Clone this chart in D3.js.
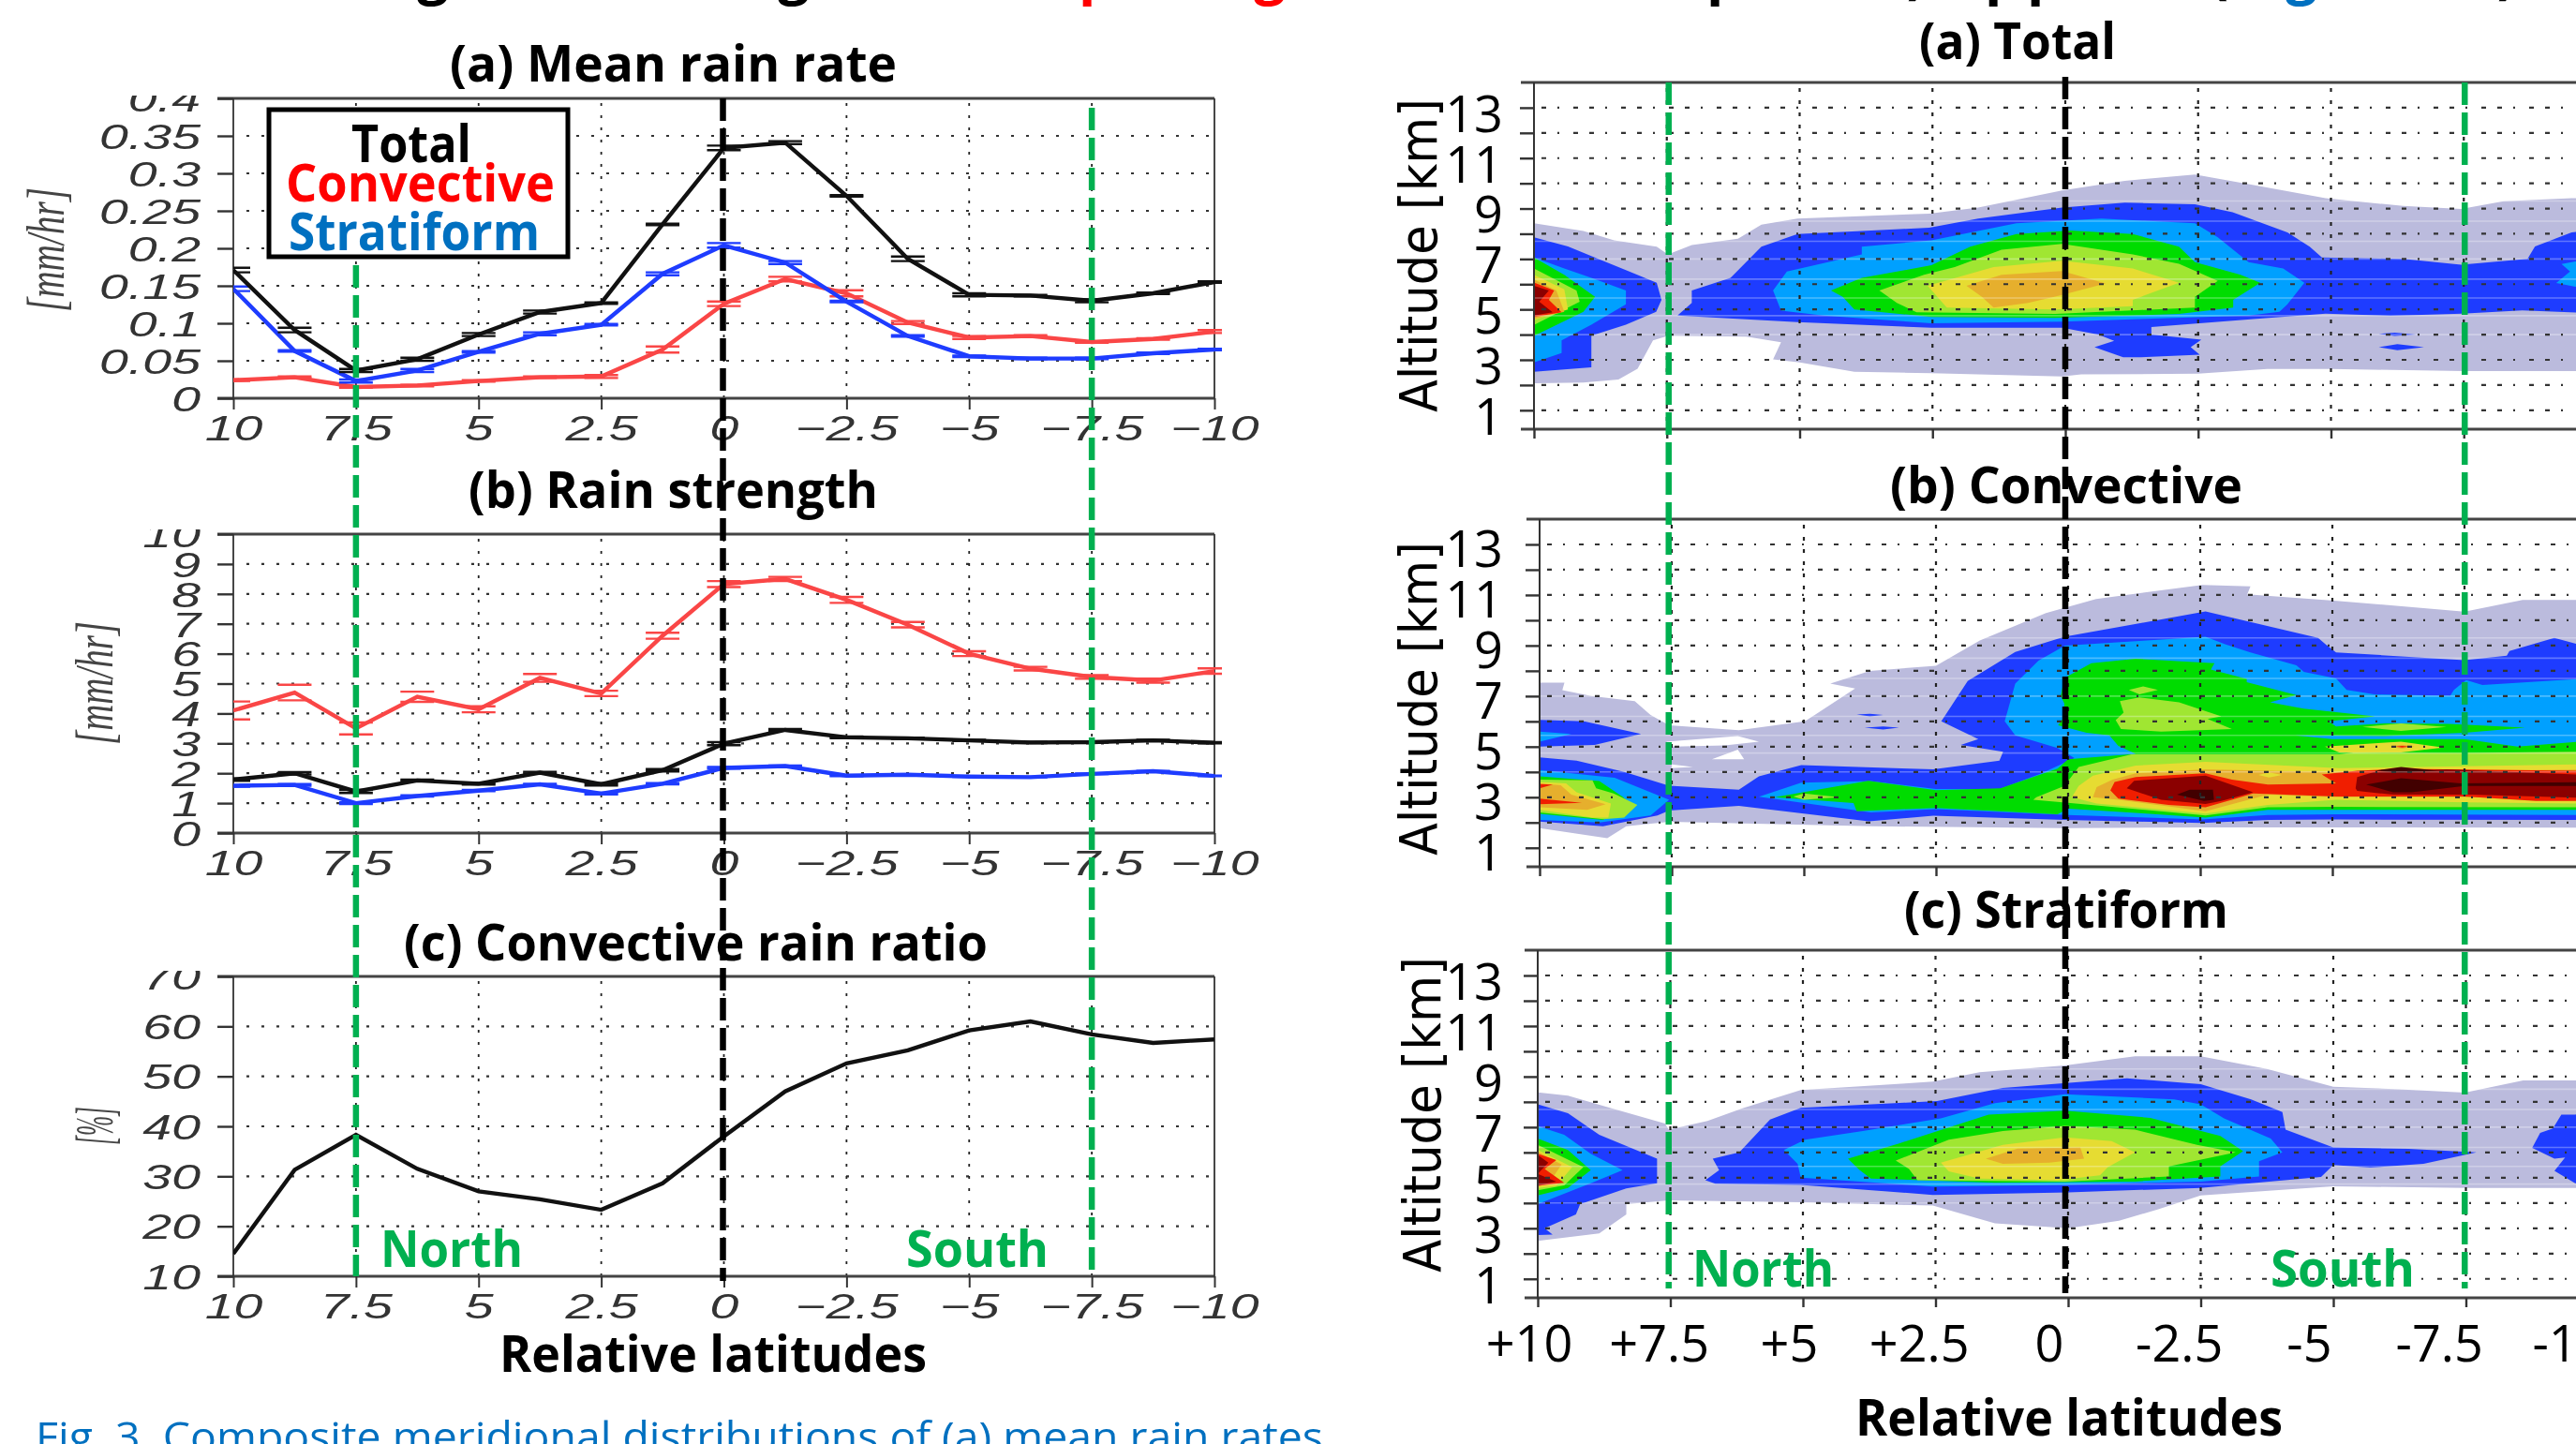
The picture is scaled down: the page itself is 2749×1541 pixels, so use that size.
<!DOCTYPE html>
<html lang="en">
<head>
<meta charset="UTF-8">
<title>Relative latitude composites</title>
<script src="https://d3js.org/d3.v7.min.js"></script>
<style>
    html, body { margin: 0; padding: 0; background: #fff; overflow: hidden; }
    svg { display: block; filter: blur(0.7px); }
    text { font-family: "Open Sans", sans-serif; }
    .grads text { font-family: "Liberation Sans", sans-serif; font-style: italic; font-size: 37px; fill: #333; }
    .unit { font-family: "Liberation Serif", serif; font-style: italic; font-size: 58px; fill: #444; }
</style>
</head>
<body>
<script>
// ---- line panels: one value every 1.25 degree
const latitudes = [10, 8.75, 7.5, 6.25, 5, 3.75, 2.5, 1.25, 0, -1.25, -2.5, -3.75, -5, -6.25, -7.5, -8.75, -10];
const latTicks = [10, 7.5, 5, 2.5, 0, -2.5, -5, -7.5, -10];
const latTickLabels = ["10", "7.5", "5", "2.5", "0", "\u22122.5", "\u22125", "\u22127.5", "\u221210"];

const rateTotal = [0.171, 0.091, 0.037, 0.052, 0.085, 0.115, 0.127, 0.232, 0.334, 0.341, 0.27, 0.186, 0.138, 0.137, 0.13, 0.14, 0.155];
const rateConvective = [0.024, 0.028, 0.015, 0.017, 0.023, 0.028, 0.029, 0.065, 0.126, 0.159, 0.14, 0.101, 0.081, 0.083, 0.075, 0.079, 0.089];
const rateStratiform = [0.146, 0.063, 0.023, 0.037, 0.062, 0.086, 0.098, 0.166, 0.204, 0.181, 0.129, 0.083, 0.056, 0.053, 0.053, 0.06, 0.065];
const rateErrTotal = [0.003, 0.003, 0.002, 0.002, 0.002, 0.002, 0.001, 0.001, 0.003, 0.002, 0.001, 0.003, 0.002, 0.001, 0.002, 0.001, 0.001];
const rateErrConvective = [0.001, 0.001, 0.001, 0.001, 0.001, 0.001, 0.002, 0.004, 0.003, 0.003, 0.004, 0.002, 0.002, 0.001, 0.001, 0.001, 0.002];
const rateErrStratiform = [0.003, 0.001, 0.002, 0.002, 0.001, 0.002, 0.001, 0.002, 0.003, 0.002, 0.001, 0.001, 0.001, 0.001, 0.001, 0.001, 0.001];
const rateTicks = [0, 0.05, 0.1, 0.15, 0.2, 0.25, 0.3, 0.35, 0.4];
const rateTickLabels = ["0", "0.05", "0.1", "0.15", "0.2", "0.25", "0.3", "0.35", "0.4"];

const strengthTotal = [1.79, 2.0, 1.39, 1.76, 1.65, 2.02, 1.63, 2.1, 2.99, 3.45, 3.2, 3.17, 3.1, 3.03, 3.04, 3.1, 3.02];
const strengthConvective = [4.1, 4.7, 3.5, 4.56, 4.14, 5.19, 4.67, 6.6, 8.33, 8.5, 7.8, 6.97, 6.0, 5.5, 5.22, 5.1, 5.42];
const strengthStratiform = [1.58, 1.61, 1.0, 1.24, 1.42, 1.63, 1.32, 1.65, 2.18, 2.24, 1.92, 1.95, 1.89, 1.87, 1.98, 2.07, 1.91];
const strengthErrTotal = [0.04, 0.04, 0.05, 0.03, 0.03, 0.03, 0.04, 0.04, 0.05, 0.03, 0.03, 0.02, 0.02, 0.02, 0.02, 0.02, 0.02];
const strengthErrConvective = [0.3, 0.26, 0.2, 0.17, 0.1, 0.13, 0.09, 0.1, 0.1, 0.07, 0.1, 0.09, 0.08, 0.06, 0.06, 0.07, 0.09];
const strengthErrStratiform = [0.03, 0.03, 0.03, 0.02, 0.02, 0.02, 0.03, 0.02, 0.03, 0.02, 0.02, 0.01, 0.01, 0.01, 0.01, 0.01, 0.01];
const strengthTicks = [0, 1, 2, 3, 4, 5, 6, 7, 8, 9, 10];

const ratioValues = [14.5, 31.3, 38.3, 31.5, 27, 25.4, 23.3, 28.6, 38, 47, 52.6, 55.2, 59.2, 61, 58.4, 56.7, 57.4];
const ratioTicks = [10, 20, 30, 40, 50, 60, 70];

// ---- contour panels: [level, ring of [latitude, altitude]]
// levels: 0 lightest ... 9 darkest, 10 = empty hole inside a lower level
const altTicks = [1, 2, 3, 4, 5, 6, 7, 8, 9, 10, 11, 12, 13];
const altLabels = ["1", "", "3", "", "5", "", "7", "", "9", "", "11", "", "13"];
const gridLats = [7.5, 5, 2.5, 0, -2.5, -5, -7.5];
const boxLats = [10, 7.5, 5, 2.5, 0, -2.5, -5, -7.5];
const seamAlts = [9.3, 8.5, 7.7, 7, 6.2, 5.45, 4.75, 4];
const bottomLabels = ["+10", "+7.5", "+5", "+2.5", "0", "-2.5", "-5", "-7.5", "-10"];

const totalContours = [
  [0, [[10,8.42],[9.07,8.11],[8.49,7.74],[7.69,7.49],[7.48,7.18],[7.03,7.55],[6.16,7.8],[5.72,8.36],[5.04,8.6],[2.56,8.8],[1.64,9.04],[0.06,9.72],[-1.12,10.1],[-2.44,10.35],[-3.45,9.97],[-4.9,9.41],[-6.36,9.1],[-7.45,8.98],[-8.25,9.29],[-9.53,9.41],[-10,9.4],[-10,2.55],[-7.5,2.55],[-5,2.64],[-3.8,2.64],[-2.5,2.45],[-0.3,2.42],[0.06,2.34],[2.52,2.47],[3.97,2.53],[5,2.9],[5.5,3.02],[5.35,3.7],[6,3.92],[7.47,3.96],[7.76,3.77],[8.05,2.65],[8.41,2.22],[9.07,2.1],[10,2.07]]],
  [1, [[10,7.86],[9.36,7.5],[8.92,7.12],[8.27,6.56],[7.69,6.06],[7.6,5.38],[7.7,4.9],[8.27,4.39],[8.92,3.96],[8.92,2.7],[10,2.53]]],
  [1, [[7.3,4.76],[7.03,5.26],[7.03,5.75],[6.3,6.25],[5.72,7.49],[5.04,7.99],[3.83,8.11],[2.56,8.24],[1.64,8.6],[0.06,9.04],[-1.12,9.23],[-2.44,9.17],[-3.15,8.85],[-4.18,8.05],[-4.6,7.49],[-4.83,7.06],[-6.36,7],[-7.45,6.77],[-8.7,7],[-8.84,7.5],[-9.53,8.05],[-10,8.2],[-10,4.85],[-8.6,4.96],[-7.46,4.83],[-6.12,4.75],[-4.9,4.83],[-3.77,4.65],[-1.62,4.3],[-1.62,4],[-2.56,3.8],[-2.36,3.5],[-2.53,3.2],[-1.42,3.1],[-1.09,3.1],[-0.55,3.5],[-0.92,3.75],[-0.62,4],[0.06,4.27],[2.52,4.27],[5.04,4.5]]],
  [1, [[-5.9,3.5],[-6.25,3.62],[-6.75,3.5],[-6.25,3.38]]],
  [1, [[-5.9,4.03],[-6.2,4.08],[-6.6,4],[-6.2,3.95]]],
  [2, [[10,7.06],[9.43,6.62],[8.92,6.25],[8.27,5.75],[8.27,5.2],[8.92,4.39],[9.48,3.77],[9.48,3.27],[10,2.9]]],
  [2, [[5.5,5.75],[5.24,6.5],[3.83,7.18],[3.83,7.49],[2.52,7.74],[0.92,8.42],[-0.68,8.6],[-2.44,8.42],[-2.87,7.86],[-3.45,6.87],[-4.1,6.62],[-4.5,6.06],[-4.18,5.2],[-4.03,4.9],[-3.45,4.76],[0.06,4.51],[2.52,4.45],[4.55,4.76],[5.35,4.95]]],
  [2, [[-10,6.95],[-9.6,6.9],[-9.34,6.8],[-9.5,6.5],[-9.24,6.05],[-9.6,5.9],[-10,5.85]]],
  [3, [[10,7.06],[9.43,6.37],[8.85,5.5],[9.07,4.9],[10,3.95]]],
  [3, [[4.41,5.75],[3.83,6.25],[2.52,6.75],[1.79,7.49],[0.92,7.99],[-0.1,8.13],[-1.27,7.99],[-2.14,7.49],[-2.44,6.87],[-3.3,6.37],[-3.67,6.06],[-3.16,5.38],[-3.16,5.07],[-2.14,4.82],[0.19,4.66],[2.52,4.7],[3.97,5],[4.19,5.5]]],
  [4, [[10,6.62],[9.2,5.75],[9.14,5.3],[10,4.38]]],
  [4, [[3.5,5.75],[2.66,6.37],[2.08,6.68],[1.2,7.37],[0.06,7.6],[-1.27,7.18],[-2.14,6.81],[-2.87,6.13],[-2.44,5.5],[-2.44,5.07],[0.19,4.82],[2.8,4.89],[3.17,5.26]]],
  [5, [[10,6.37],[9.43,5.8],[9.36,5],[10,4.58]]],
  [5, [[2.59,5.94],[1.35,6.68],[0.06,6.93],[-1.27,6.62],[-2.14,6.06],[-1.27,5.38],[-1.27,5.13],[0.19,5],[2.23,5.07]]],
  [6, [[10,6.19],[9.58,5.75],[9.43,4.9],[10,4.63]]],
  [6, [[1.86,5.94],[1.2,6.37],[0.06,6.52],[-0.76,6.03],[0.06,5.57],[0.7,5.26],[1.35,5.07],[1.57,5.5]]],
  [7, [[10,6.07],[9.62,5.75],[9.72,5.38],[9.48,4.89],[10,4.7]]],
  [8, [[10,5.94],[9.72,5.75],[9.9,5.3],[9.65,4.89],[10,4.76]]]
];

const convectiveContours = [
  [0, [[10,7.53],[9.53,7.53],[9.57,7.24],[9.02,7],[8.2,6.8],[7.9,6.25],[7.55,5.85],[6.23,5.65],[4.98,6],[4.03,7.3],[4.5,7.5],[3.75,8],[2.5,8.2],[1.67,9.2],[0.42,10.28],[-0.53,10.84],[-2.54,11.4],[-3.45,11.34],[-3.39,11.03],[-5.03,10.78],[-7.5,10.34],[-8.6,10.8],[-10,10.8],[-10,1.8],[-2.54,1.81],[0.06,1.78],[3.7,1.85],[7.55,2.03],[8.36,1.85],[8.72,1.38],[10,1.78]]],
  [10, [[7.6,5.2],[6.25,5.42],[5.85,5.2],[6.5,5.05],[7.5,5]]],
  [10, [[6.74,4.5],[6.25,4.88],[6.13,4.5]]],
  [10, [[7.5,4.3],[7.1,4.2],[7.5,4.15]]],
  [1, [[10,6.06],[9.16,6],[8.08,5.5],[8.96,5.07],[10,5]]],
  [1, [[3.85,5.75],[3.5,5.8],[3.2,5.75],[3.5,5.68]]],
  [1, [[4,6.27],[3.75,6.3],[3.5,6.25],[3.75,6.2]]],
  [1, [[10,4.58],[9.3,4.45],[8.4,4],[7.55,3.46],[6.23,3.3],[5.85,3.83],[5.05,4.27],[2.55,4.1],[1.3,4.45],[1.23,4.8],[2.03,5.07],[1.7,5.3],[2.4,6],[1.9,7.6],[1,8.75],[0.07,9.35],[-2.6,10.35],[-4.73,9.3],[-4.87,9.05],[-5.07,8.73],[-7.5,8.42],[-8.3,8.6],[-8.35,8.78],[-9.2,9.3],[-9.65,9.05],[-10,9.05],[-10,2.05],[-9.65,2.1],[-5.07,2.12],[-3.78,2.1],[-2.54,1.98],[0.06,2.1],[2.55,2.27],[3.77,2.05],[6.23,2.66],[7.55,2.47],[7.77,2.28],[8.8,1.85],[10,2.04]]],
  [2, [[10,5.6],[9.4,5.5],[10,5.2]]],
  [2, [[10,4.08],[8.58,3.77],[7.55,2.9],[7.9,2.28],[8.87,2],[10,2.1]]],
  [2, [[5.85,3.02],[5.05,3.58],[3.73,3.64],[2.5,3.33],[1.3,3.33],[0.5,3.95],[-0.12,4.55],[0.2,4.95],[1,5.45],[1.2,6],[1,7.5],[0.56,8.4],[0.06,9],[-2.6,9.35],[-2.97,9.05],[-3.45,8.73],[-4.32,8.22],[-4.46,7.96],[-5.07,7.7],[-5.27,7.25],[-5.8,7.07],[-7.23,7.01],[-7.3,7.25],[-7.53,7.63],[-7.84,7.44],[-9.65,7.68],[-10,7.7],[-10,2.3],[-9.65,2.3],[-5.07,2.33],[-3.78,2.3],[-2.54,2.12],[0,2.3],[2.5,2.53],[3.73,2.4]]],
  [3, [[10,3.83],[8.87,3.64],[8.43,3.02],[8.28,2.72],[8.8,2.1],[10,2.34]]],
  [3, [[0.19,5.85],[0.1,6.1],[0.07,6.7],[0.14,7],[0.07,7.72],[-0.44,8.3],[-1.28,8.48],[-2.77,8.3],[-2.7,8.05],[-3.38,7.68],[-3.38,7.55],[-4.32,7.04],[-3.82,6.75],[-4.46,6.5],[-5.81,6.2],[-4.93,6],[-5.07,5.8],[-6,5.92],[-7.2,5.9],[-8.65,5.75],[-7.5,5.55],[-6,5.42],[-4.3,5.45],[-5,5.3],[-7.5,5.3],[-8.5,5],[-9.65,5.2],[-10,5.2],[-10,2.5],[-9.65,2.5],[-5.07,2.5],[-3.78,2.5],[-2.6,2.2],[0,2.55],[0.2,2.33],[2.5,2.58],[4,2.45],[4.06,2.77],[5.55,3],[3.78,3.65],[2.5,3.28],[1.28,3.35],[0.2,4.13],[0,4.5],[-1.28,4.72],[-0.95,5.03],[-0.78,5.45],[-0.35,5.55]]],
  [2, [[-5.2,6.05],[-7.5,6.05],[-8.2,6.05],[-7.2,5.98],[-5.5,5.98]]],
  [4, [[10,3.7],[9,3.67],[8.93,3.35],[8.6,3.15],[8.15,2.7],[8.4,2.2],[8.8,2.13],[10,2.4]]],
  [4, [[5.2,3.03],[5,3.15],[4.33,3],[5,2.9]]],
  [4, [[-0.98,6.8],[-1.35,6.95],[-2.1,6.75],[-2.9,6.2],[-2.64,6.1],[-3.1,5.7],[-1.76,5.6],[-1,5.7],[-0.9,6.05],[-1.05,6.35]]],
  [4, [[-1.15,7.25],[-1.42,7.38],[-1.7,7.25],[-1.35,7.07]]],
  [4, [[-5.57,5.78],[-6.3,5.92],[-7.16,5.78],[-6.3,5.62]]],
  [4, [[0.6,3],[0.07,3.45],[-0.2,4.2],[-1.2,4.7],[-5.13,4.7],[-5.4,4.77],[-7.43,4.75],[-9.65,4.8],[-10,4.8],[-10,2.6],[-9.65,2.6],[-5.07,2.62],[-3.78,2.6],[-2.6,2.28],[0,2.78],[0.66,2.9]]],
  [5, [[10,3.6],[9.5,3.55],[9.3,3.2],[8.65,2.75],[8.7,2.2],[9,2.2],[10,2.5]]],
  [5, [[-4.86,5],[-6.3,5.2],[-7.1,4.97],[-6.3,4.77],[-5.13,4.77]]],
  [5, [[-0.07,3],[-0.2,3.45],[-0.47,3.85],[-1.28,4.25],[-2.6,4.4],[-5.13,4.15],[-9.65,4.3],[-10,4.3],[-10,2.75],[-9.65,2.75],[-7.5,2.8],[-5.07,2.9],[-3.78,2.7],[-2.6,2.35],[-0.54,2.75]]],
  [6, [[10,3.55],[9.6,3.47],[9.4,3.1],[8.75,2.72],[9.1,2.5],[10,2.6]]],
  [6, [[-6.08,5],[-6.32,5.08],[-6.55,5],[-6.32,4.92]]],
  [6, [[-0.47,3],[-0.54,3.4],[-0.84,3.7],[-1.28,3.95],[-2.6,4.1],[-4.8,4],[-9.65,4.1],[-10,4.1],[-10,2.95],[-9.65,2.95],[-7.5,3],[-5.07,3],[-3.78,3.1],[-2.6,2.45],[-0.95,2.9]]],
  [5, [[-3.6,3.88],[-3.8,3.98],[-4.05,3.88],[-3.8,3.78]]],
  [7, [[10,3.52],[9.75,3.5],[10,3.35]]],
  [7, [[10,2.95],[9.2,2.78],[10,2.72]]],
  [7, [[-6.2,5],[-6.32,5.03],[-6.45,5],[-6.32,4.97]]],
  [7, [[-0.8,3.27],[-0.88,3.6],[-1.28,3.8],[-2.6,3.95],[-3.1,3.7],[-3.78,3.5],[-5.07,3.55],[-4.8,3.9],[-5.47,4.05],[-6.3,4.12],[-9.65,4.05],[-10,4.05],[-10,2.85],[-9.65,2.85],[-8.85,2.85],[-7.5,3.03],[-5.07,3.03],[-3.5,3.15],[-3.1,2.9],[-2.6,2.6],[-1.9,2.7],[-0.95,2.95]]],
  [8, [[-1.11,3.35],[-1.25,3.65],[-2.6,3.85],[-3.5,3.2],[-2.9,2.85],[-2.6,2.73],[-1.76,2.9]]],
  [8, [[-5.44,3.35],[-5.47,3.8],[-5.8,4],[-7.16,4.1],[-9.65,3.9],[-10,3.85],[-10,3.05],[-9.65,2.98],[-7.63,3.1],[-6.15,3.1],[-5.47,3.25]]],
  [9, [[-2.06,3.1],[-2.3,3.3],[-2.74,3.3],[-2.76,2.9],[-2.57,2.85]]],
  [9, [[-5.64,3.5],[-6.3,3.75],[-7.43,3.55],[-9.65,3.6],[-9.65,3.45],[-7.5,3.45],[-6.5,3.2],[-6.15,3.2]]],
  [9, [[-5.8,4.05],[-6.3,4.2],[-7,4.05],[-6.3,3.97]]]
];

const stratiformContours = [
  [0, [[10,8.38],[9.43,8.25],[8.7,7.8],[7.6,7.14],[7.53,6.9],[6.8,7.25],[6.14,7.75],[5.04,8.47],[2.55,8.8],[1.67,9.17],[0.06,9.44],[-1.26,9.8],[-2.5,9.8],[-3.75,9.3],[-5,8.6],[-6.24,8.5],[-7.48,8.37],[-8.58,8.85],[-10,8.85],[-10,4.6],[-7.5,4.6],[-5,4.66],[-2.5,4.3],[-1.7,3.75],[-0.96,3.3],[0,3],[1.38,3.2],[2.55,3.9],[5.04,4.03],[7.53,4.1],[8.33,3.96],[8.33,3.55],[8.84,2.8],[10,2.5]]],
  [1, [[10,7.9],[9.43,7.55],[8.84,6.7],[7.75,5.75],[7.75,4.78],[8.33,4.58],[9.2,3.96],[9.28,3.55],[9.87,3],[9.72,2.75],[10,2.73]]],
  [1, [[6.84,4.9],[6.58,5.3],[6.7,5.75],[6.2,6],[5.62,7.3],[5.04,7.76],[2.47,8.03],[1.23,8.55],[-1.11,8.93],[-2.5,8.7],[-3.45,8.1],[-4.04,7.6],[-4.1,6.9],[-5,6.2],[-6.42,6.14],[-7.7,6],[-6.7,5.55],[-5.7,5.4],[-5,5.5],[-4.77,5.03],[-3.45,4.78],[-2.5,4.6],[0,4.42],[2.55,4.32],[5.04,4.72],[6.65,4.76]]],
  [1, [[-10,7.6],[-9.56,7.5],[-9.3,7.5],[-9.14,6.95],[-8.9,6.77],[-8.75,6.18],[-9.17,5.75],[-9.37,5.8],[-9.17,5.27],[-9.56,4.78],[-10,4.6]]],
  [2, [[10,7.04],[9.5,6.7],[9,5.95],[8.4,5.3],[9,4.78],[10,3.96]]],
  [2, [[5.36,6.1],[4.96,6.5],[3.87,6.85],[2.4,7.35],[1.38,7.95],[0.06,8.3],[-2,8.1],[-2.5,7.9],[-2.94,7.35],[-3.82,6.55],[-4.04,6],[-3.6,5.65],[-3.6,5.05],[-2.5,4.85],[0,4.72],[2.55,4.65],[5.04,5],[5.1,5.55]]],
  [3, [[10,6.55],[9.43,6.1],[9,5.3],[9.43,4.6],[10,4.3]]],
  [3, [[4.15,5.75],[3.2,6.35],[1.5,7.5],[0.06,7.65],[-1.55,7.37],[-2.87,6.65],[-3.3,6.05],[-2.87,5.45],[-2.87,5.05],[-1.26,4.85],[1.38,4.8],[3.72,4.97],[3.94,5.32]]],
  [4, [[10,6.3],[9.14,5.42],[9.5,4.7],[10,4.5]]],
  [4, [[3.25,5.68],[2.25,6.5],[1.23,6.85],[0.06,7.05],[-1.26,6.9],[-2.43,6.3],[-3.16,6],[-1.9,5.45],[-1.9,5.05],[0.06,4.85],[2.84,4.9],[3,5.35]]],
  [5, [[10,6.1],[9.35,5.42],[9.65,4.68],[10,4.6]]],
  [5, [[2.4,5.6],[1.23,6.3],[0.06,6.6],[-0.82,6.45],[-1.26,6],[-0.75,5.42],[-0.6,5.1],[0.2,4.9],[1.67,4.97],[2.25,5.25]]],
  [6, [[10,6.03],[9.55,5.52],[9.8,4.75],[10,4.66]]],
  [6, [[1.55,5.75],[0.95,6.15],[-0.23,6.2],[-0.3,5.75],[0.35,5.6],[1.23,5.55]]],
  [7, [[10,5.95],[9.65,5.7],[9.87,5.35],[9.5,4.8],[10,4.68]]],
  [8, [[10,5.9],[9.8,5.6],[10,5.15],[9.65,4.85],[10,4.7]]]
];

const topGlyphs = ["g", ",", "g", "p", "g", "p", ")", "p", "p", "(", "g", ")"];

// ---- styles
const levelColors = ["#bbbbdd", "#1e3cff", "#00a0ff", "#00dc00", "#a0e632", "#e6dc32", "#e6af2d", "#f01e00", "#8b0000", "#420000", "#ffffff"];
const lineBlack = "#111", lineRed = "#fa4646", lineBlue = "#1e3cff";
const green = "#00b050", capBlue = "#0070c0";
const topGlyphColors = ["#000", "#000", "#000", "#f00", "#f00", "#000", "#000", "#000", "#000", "#000", capBlue, "#000"];
const topGlyphX = [462, 553, 847, 1170, 1355, 1840, 2045, 2137, 2182, 2368, 2456, 2675];

const W = 2749, H = 1541;
const svg = d3.select("body").append("svg").attr("width", W).attr("height", H);
const defs = svg.append("defs");

// stretched bold-ish label, fitted between x0 and x1
function label(txt, x0, x1, base, size, color, weight) {
    return svg.append("text")
        .attr("x", x0).attr("y", base)
        .attr("textLength", x1 - x0).attr("lengthAdjust", "spacingAndGlyphs")
        .attr("font-size", size).attr("font-weight", weight || 700)
        .attr("fill", color || "#000")
        .text(txt);
}

function rotLabel(txt, cls, xBase, y0, y1, size, fam) {
    const t = svg.append("text")
        .attr("class", cls)
        .attr("transform", `translate(${xBase},${y1}) rotate(-90)`)
        .attr("textLength", y1 - y0).attr("lengthAdjust", "spacingAndGlyphs")
        .text(txt);
    if (fam) t.style("font-family", fam).attr("font-size", size);
    return t;
}

const xLeft = d3.scaleLinear().domain([10, -10]).range([249, 1296]);

function linePanel(id, top, bottom, domain, ticks, tickLabels, series) {
    const y = d3.scaleLinear().domain(domain).range([bottom, top]);
    const g = svg.append("g");

    // grid
    g.selectAll(".hg").data(ticks.slice(1, -1)).enter().append("line")
        .attr("x1", xLeft(10) + 14).attr("x2", xLeft(-10))
        .attr("y1", d => y(d)).attr("y2", d => y(d))
        .attr("stroke", "#333").attr("stroke-width", 2.2).attr("stroke-dasharray", "3 13");
    g.selectAll(".vg").data(latTicks.slice(1, -1)).enter().append("line")
        .attr("x1", d => xLeft(d)).attr("x2", d => xLeft(d))
        .attr("y1", top + 5).attr("y2", bottom)
        .attr("stroke", "#222").attr("stroke-width", 1.8).attr("stroke-dasharray", "3 10");

    // frame and axes
    g.selectAll(".fr").data([top, bottom]).enter().append("line")
        .attr("x1", xLeft(10) - 17).attr("x2", xLeft(-10))
        .attr("y1", d => d).attr("y2", d => d)
        .attr("stroke", "#444").attr("stroke-width", 3);
    g.selectAll(".fs").data([10, -10]).enter().append("line")
        .attr("x1", d => xLeft(d)).attr("x2", d => xLeft(d))
        .attr("y1", top).attr("y2", bottom)
        .attr("stroke", "#333").attr("stroke-width", 1.8);

    const yAxis = d3.axisLeft(y).tickValues(ticks).tickSize(17)
        .tickFormat((d, i) => tickLabels[i]);
    const ya = g.append("g").attr("class", "grads")
        .attr("transform", `translate(${xLeft(10)},0)`).call(yAxis);
    ya.select(".domain").remove();
    ya.selectAll("line").attr("stroke", "#333").attr("stroke-width", 2.4);
    ya.selectAll("text").attr("x", 0).attr("dy", "0.36em")
        .attr("transform", "translate(-35,0) scale(1.5,1)");

    const xAxis = d3.axisBottom(xLeft).tickValues(latTicks).tickSize(12)
        .tickFormat((d, i) => latTickLabels[i]);
    const xa = g.append("g").attr("class", "grads")
        .attr("transform", `translate(0,${bottom})`).call(xAxis);
    xa.select(".domain").remove();
    xa.selectAll("line").attr("stroke", "#333").attr("stroke-width", 2);
    xa.selectAll("text").attr("y", 0).attr("dy", 0)
        .attr("transform", "translate(0,45) scale(1.5,1)");

    // curves and error caps
    const clipId = "clip-" + id;
    defs.append("clipPath").attr("id", clipId).append("rect")
        .attr("x", xLeft(10)).attr("y", top - 2)
        .attr("width", xLeft(-10) - xLeft(10) + 8).attr("height", bottom - top + 4);
    const plot = g.append("g").attr("clip-path", `url(#${clipId})`);
    const line = d3.line().x((d, i) => xLeft(latitudes[i])).y(d => y(d));

    series.forEach(s => {
        plot.append("path").datum(s.values)
            .attr("d", line).attr("fill", "none")
            .attr("stroke", s.color).attr("stroke-width", 4.4);
        if (!s.errs) return;
        const caps = s.values.flatMap((v, i) => [
            { lat: latitudes[i], v: v + s.errs[i] },
            { lat: latitudes[i], v: v - s.errs[i] }
        ]);
        plot.selectAll(null).data(caps).enter().append("line")
            .attr("x1", d => xLeft(d.lat) - 18).attr("x2", d => xLeft(d.lat) + 18)
            .attr("y1", d => y(d.v)).attr("y2", d => y(d.v))
            .attr("stroke", s.color).attr("stroke-width", 2.4);
    });
}

function contourPanel(id, top, bottom, x0, x1, contours, labelShift, showLabels) {
    const x = d3.scaleLinear().domain([10, -10]).range([x0, x1]);
    const y = d3.scaleLinear().domain([0.25, 14]).range([bottom, top]);
    const g = svg.append("g");

    const clipId = "clip-" + id;
    defs.append("clipPath").attr("id", clipId).append("rect")
        .attr("x", x0).attr("y", top).attr("width", x1 - x0).attr("height", bottom - top);
    const plot = g.append("g").attr("clip-path", `url(#${clipId})`);

    const ring = d3.line().x(d => x(d[0])).y(d => y(d[1])).curve(d3.curveLinearClosed);
    plot.selectAll("path").data(contours).enter().append("path")
        .attr("d", d => ring(d[1]))
        .attr("fill", d => levelColors[d[0]]);

    // pale seams the interpolated image shows across the colours
    plot.selectAll(".seam").data(seamAlts).enter().append("line")
        .attr("x1", x0).attr("x2", x1)
        .attr("y1", d => y(d)).attr("y2", d => y(d))
        .attr("stroke", "#fff").attr("stroke-opacity", 0.3).attr("stroke-width", 1.6);

    // grid
    g.selectAll(".hg").data(altTicks).enter().append("line")
        .attr("x1", x0 + 8).attr("x2", W)
        .attr("y1", d => y(d)).attr("y2", d => y(d))
        .attr("stroke", "#333").attr("stroke-width", 2.2).attr("stroke-dasharray", "5 12 2 15 5 12");
    g.selectAll(".vg").data(gridLats).enter().append("line")
        .attr("x1", d => x(d)).attr("x2", d => x(d))
        .attr("y1", top + 6).attr("y2", bottom)
        .attr("stroke", "#222").attr("stroke-width", 2.2).attr("stroke-dasharray", "4 9");

    // frame and axes
    g.selectAll(".fr").data([top, bottom]).enter().append("line")
        .attr("x1", x0 - 14).attr("x2", W)
        .attr("y1", d => d).attr("y2", d => d)
        .attr("stroke", "#444").attr("stroke-width", 3);
    g.append("line").attr("x1", x0).attr("x2", x0).attr("y1", top).attr("y2", bottom)
        .attr("stroke", "#333").attr("stroke-width", 2);

    const yAxis = d3.axisLeft(y).tickValues(altTicks).tickSize(15)
        .tickFormat((d, i) => altLabels[i]);
    const ya = g.append("g").attr("transform", `translate(${x0},0)`).call(yAxis);
    ya.select(".domain").remove();
    ya.selectAll("line").attr("stroke", "#333").attr("stroke-width", 2.4);
    ya.selectAll("text")
        .attr("x", 1604 - x0).attr("dy", "0.36em")
        .attr("transform", `translate(0,${labelShift})`)
        .attr("fill", "#000").style("font-size", "54px")
        .style("font-family", "'Open Sans', sans-serif");

    const xAxis = d3.axisBottom(x).tickValues(boxLats).tickSize(10).tickFormat("");
    const xa = g.append("g").attr("transform", `translate(0,${bottom})`).call(xAxis);
    xa.select(".domain").remove();
    xa.selectAll("line").attr("stroke", "#333").attr("stroke-width", 2.4);

    if (showLabels) {
        const lx = d3.scalePoint().domain(bottomLabels).range([1632, 2742]);
        g.selectAll(".bl").data(bottomLabels).enter().append("text")
            .attr("x", d => lx(d)).attr("y", 1453)
            .attr("text-anchor", "middle").attr("font-size", 54).attr("fill", "#000")
            .text(d => d);
    }
}

// ---- left column
linePanel("rate", 105, 425, [0, 0.4], rateTicks, rateTickLabels, [
    { values: rateConvective, errs: rateErrConvective, color: lineRed },
    { values: rateStratiform, errs: rateErrStratiform, color: lineBlue },
    { values: rateTotal, errs: rateErrTotal, color: lineBlack }
]);
linePanel("strength", 570, 889, [0, 10], strengthTicks, strengthTicks.map(String), [
    { values: strengthConvective, errs: strengthErrConvective, color: lineRed },
    { values: strengthStratiform, errs: strengthErrStratiform, color: lineBlue },
    { values: strengthTotal, errs: strengthErrTotal, color: lineBlack }
]);
linePanel("ratio", 1042, 1362, [10, 70], ratioTicks, ratioTicks.map(String), [
    { values: ratioValues, color: lineBlack }
]);

// the top tick labels are cut by the pasted title boxes
svg.selectAll(".cover").data([[90, 12], [545, 20], [1015, 21]]).enter().append("rect")
    .attr("x", 90).attr("width", 1240).attr("y", d => d[0]).attr("height", d => d[1])
    .attr("fill", "#fff");

rotLabel("[mm/hr]", "unit", 68, 200, 333);
rotLabel("[mm/hr]", "unit", 120, 663, 795);
rotLabel("[%]", "unit", 120, 1181, 1222);

label("(a) Mean rain rate", 480, 957, 87, 54);
label("(b) Rain strength", 500, 937, 542, 54);
label("(c) Convective rain ratio", 431, 1054, 1025, 54);
label("Relative latitudes", 533, 989, 1464, 54);

// legend
svg.append("rect").attr("x", 287).attr("y", 117).attr("width", 319).attr("height", 157)
    .attr("fill", "#fff").attr("stroke", "#000").attr("stroke-width", 5);
label("Total", 375, 503, 173, 55);
label("Convective", 305, 592, 215, 55, "#f00");
label("Stratiform", 308, 576, 267, 55, capBlue);

// ---- right column
contourPanel("total", 88, 458, 1637, 2771, totalContours, 6, false);
contourPanel("conv", 554, 925, 1643, 2771, convectiveContours, 4, false);
contourPanel("strat", 1014, 1385, 1641, 2773, stratiformContours, 6, true);

[[1533, 105, 440], [1533, 578, 913], [1537, 1021, 1358]].forEach(d => {
    rotLabel("Altitude [km]", "alt", d[0], d[1], d[2], 56, "'DejaVu Sans', sans-serif");
});

label("(a) Total", 2048, 2258, 63, 54);
label("(b) Convective", 2017, 2393, 537, 54);
label("(c) Stratiform", 2032, 2378, 990, 54);
label("Relative latitudes", 1980, 2436, 1532, 54);

label("North", 406, 558, 1352, 54, green);
label("South", 967, 1119, 1352, 54, green);
label("North", 1806, 1957, 1373, 54, green);
label("South", 2423, 2577, 1373, 54, green);

// dashed marker lines across the panels, on top of everything
const xRight = d3.scaleLinear().domain([10, -10]).range([1637, 2771]);
function marker(x, y0, y1, color) {
    svg.append("line").attr("x1", x).attr("x2", x).attr("y1", y0).attr("y2", y1)
        .attr("stroke", color).attr("stroke-width", 6.5).attr("stroke-dasharray", "24 8");
}
marker(xLeft(7.5), 283, 1362, green);
marker(xLeft(-7.5), 115, 1355, green);
marker(xLeft(0) - 1, 105, 1367, "#000");
marker(xRight(7.5) + 2, 88, 1375, green);
marker(xRight(-7.5) + 1, 88, 1375, green);
marker(xRight(0), 82, 1380, "#000");

// caption and the bottoms of the cut-off headline
label("Fig. 3. Composite meridional distributions of (a) mean rain rates", 38, 1412, 1549, 43, capBlue, 400);
svg.selectAll(".head").data(topGlyphs).enter().append("text")
    .attr("x", (d, i) => topGlyphX[i]).attr("y", -8)
    .attr("text-anchor", "middle").attr("font-size", 60).attr("font-weight", 700)
    .attr("fill", (d, i) => topGlyphColors[i])
    .text(d => d);
</script>
</body>
</html>
